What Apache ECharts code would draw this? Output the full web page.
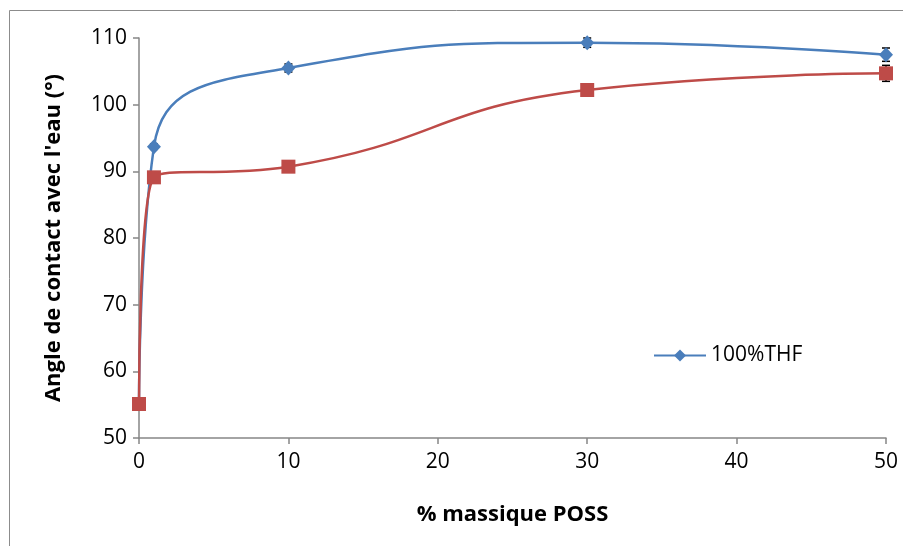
<!DOCTYPE html>
<html>
<head>
<meta charset="utf-8">
<script src="https://cdn.jsdelivr.net/npm/echarts@6/dist/echarts.min.js"></script>
<style>html,body{margin:0;padding:0;background:#fff}#c{width:903px;height:546px}</style>
</head>
<body>
<div id="c"></div>
<script>
const xValues = [0, 1, 10, 30, 50];
const blueValues = [55, 93.7, 105.5, 109.3, 107.5];
const blueErr = [0, 0.4, 0.6, 0.7, 1.0];
const redValues = [55.1, 89.1, 90.7, 102.2, 104.7];
const redErr = [0, 0.3, 0.3, 0.3, 1.2];
const blueName = '100%THF';
const redName = 'rouge';
const xTitle = '% massique POSS';
const yTitle = "Angle de contact avec l'eau (°)";

const FONT = 'Open Sans';
const blue = '#4a7ebb', red = '#be4b48';

function pairs(vals){ return xValues.map((x,i)=>[x, vals[i]]); }
function errData(vals, errs){ return xValues.map((x,i)=>[x, vals[i], errs[i]]); }
function errRender(params, api){
  const x = api.value(0), y = api.value(1), e = api.value(2);
  if (!e) return null;
  const top = api.coord([x, y + e]);
  const bot = api.coord([x, y - e]);
  const w = 4;
  const st = {stroke:'#000', lineWidth:1.5};
  return {type:'group', children:[
    {type:'line', shape:{x1:top[0],y1:top[1],x2:bot[0],y2:bot[1]}, style:st},
    {type:'line', shape:{x1:top[0]-w,y1:top[1],x2:top[0]+w,y2:top[1]}, style:st},
    {type:'line', shape:{x1:bot[0]-w,y1:bot[1],x2:bot[0]+w,y2:bot[1]}, style:st}
  ]};
}

const chart = echarts.init(document.getElementById('c'), null, {renderer:'canvas'});
chart.setOption({
  animation:false,
  backgroundColor:'#fff',
  graphic:[{type:'rect', shape:{x:9.5,y:10.5,width:1000,height:1000}, style:{fill:'none',stroke:'#8c8c8c',lineWidth:1}, z:-1}],
  grid:{left:139, right:17, top:38, bottom:108, containLabel:false},
  legend:{
    data:[{name:blueName}],
    left:648, top:340, itemWidth:52, itemHeight:15, itemGap:8,
    textStyle:{fontFamily:FONT, fontSize:21, color:'#000'}
  },
  xAxis:{
    type:'value', min:0, max:50, interval:10,
    name:xTitle, nameLocation:'middle', nameGap:66,
    nameTextStyle:{fontFamily:FONT, fontSize:22, fontWeight:'bold', color:'#000'},
    axisLine:{lineStyle:{color:'#868686', width:1.5}},
    axisTick:{show:true, length:6, lineStyle:{color:'#868686', width:1.5}},
    axisLabel:{fontFamily:FONT, fontSize:21, color:'#000', margin:14},
    splitLine:{show:false}
  },
  yAxis:{
    type:'value', min:50, max:110, interval:10,
    name:yTitle, nameLocation:'middle', nameGap:74, nameRotate:90,
    nameTextStyle:{fontFamily:FONT, fontSize:22, fontWeight:'bold', color:'#000'},
    axisLine:{show:true, lineStyle:{color:'#868686', width:1.5}},
    axisTick:{show:true, length:6, lineStyle:{color:'#868686', width:1.5}},
    axisLabel:{fontFamily:FONT, fontSize:21, color:'#000', margin:12},
    splitLine:{show:false}
  },
  series:[
    {type:'custom', name:'errB', renderItem:errRender, data:errData(blueValues, blueErr), z:1, silent:true},
    {type:'custom', name:'errR', renderItem:errRender, data:errData(redValues, redErr), z:1, silent:true},
    {
      type:'line', name:blueName, data:pairs(blueValues).map((p,i)=> i===0 ? {value:p, symbolSize:0} : p),
      smooth:0.5, symbol:'diamond', symbolSize:[14,15],
      lineStyle:{color:blue, width:2.5}, itemStyle:{color:blue}, z:2
    },
    {
      type:'line', name:redName, data:pairs(redValues),
      smooth:0.5, symbol:'rect', symbolSize:14,
      lineStyle:{color:red, width:2.5}, itemStyle:{color:red}, z:3
    }
  ]
});
</script>
</body>
</html>
